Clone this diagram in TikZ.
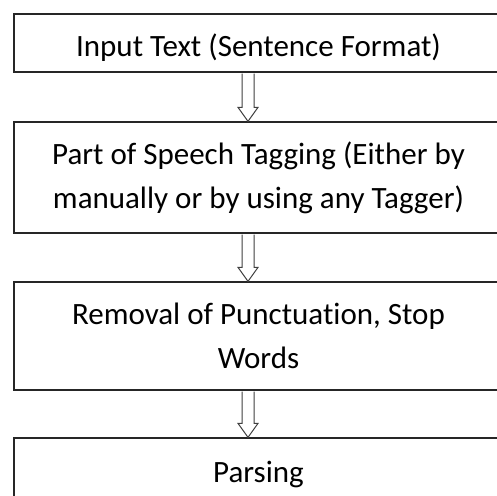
\documentclass[tikz,border=0pt]{standalone}
\usepackage{fontspec}
\setmainfont{Carlito}[Ligatures=NoCommon]
\usetikzlibrary{calc}
\newcommand{\hollowarr}[2]{%
  \coordinate (#1-a) at ($(#1.south)+(-10.5,1)$);
  \coordinate (#1-t) at (#2.north -| #1-a);
  \draw[harrow] ($(#1-a)+(-6,0)$) -- ($(#1-t)+(-6,-14)$) -- ($(#1-t)+(-10,-14)$) -- (#1-t)
     -- ($(#1-t)+(10,-14)$) -- ($(#1-t)+(6,-14)$) -- ($(#1-a)+(6,0)$);
}
\begin{document}
\begin{tikzpicture}[x=1pt,y=-1pt,
  box/.style={draw=black!85, line width=1.3pt, rectangle, align=center, inner sep=0pt,
    minimum width=489pt, font=\fontsize{31}{44}\selectfont},
  harrow/.style={draw=black!75, line width=1pt, fill=white, line join=miter}]
\useasboundingbox (0,0) rectangle (497,495);
\fill[white] (0,0) rectangle (497,495);
\clip (0,0) rectangle (497,495);
\node[box, minimum height=58pt] (b1) at (258.5,43) {\raisebox{-13.5pt}[0pt][0pt]{Input Text (Sentence Format)}};
\node[box, minimum height=111pt] (b2) at (258.5,177.5) {Part of Speech Tagging (Either by\\manually or by using any Tagger)};
\node[box, minimum height=108pt] (b3) at (258.5,336) {Removal of Punctuation, Stop\\Words};
\node[box, minimum height=64pt] (b4) at (258.5,470) {\raisebox{-12pt}[0pt][0pt]{Parsing}};
\hollowarr{b1}{b2}
\hollowarr{b2}{b3}
\hollowarr{b3}{b4}
\end{tikzpicture}
\end{document}
